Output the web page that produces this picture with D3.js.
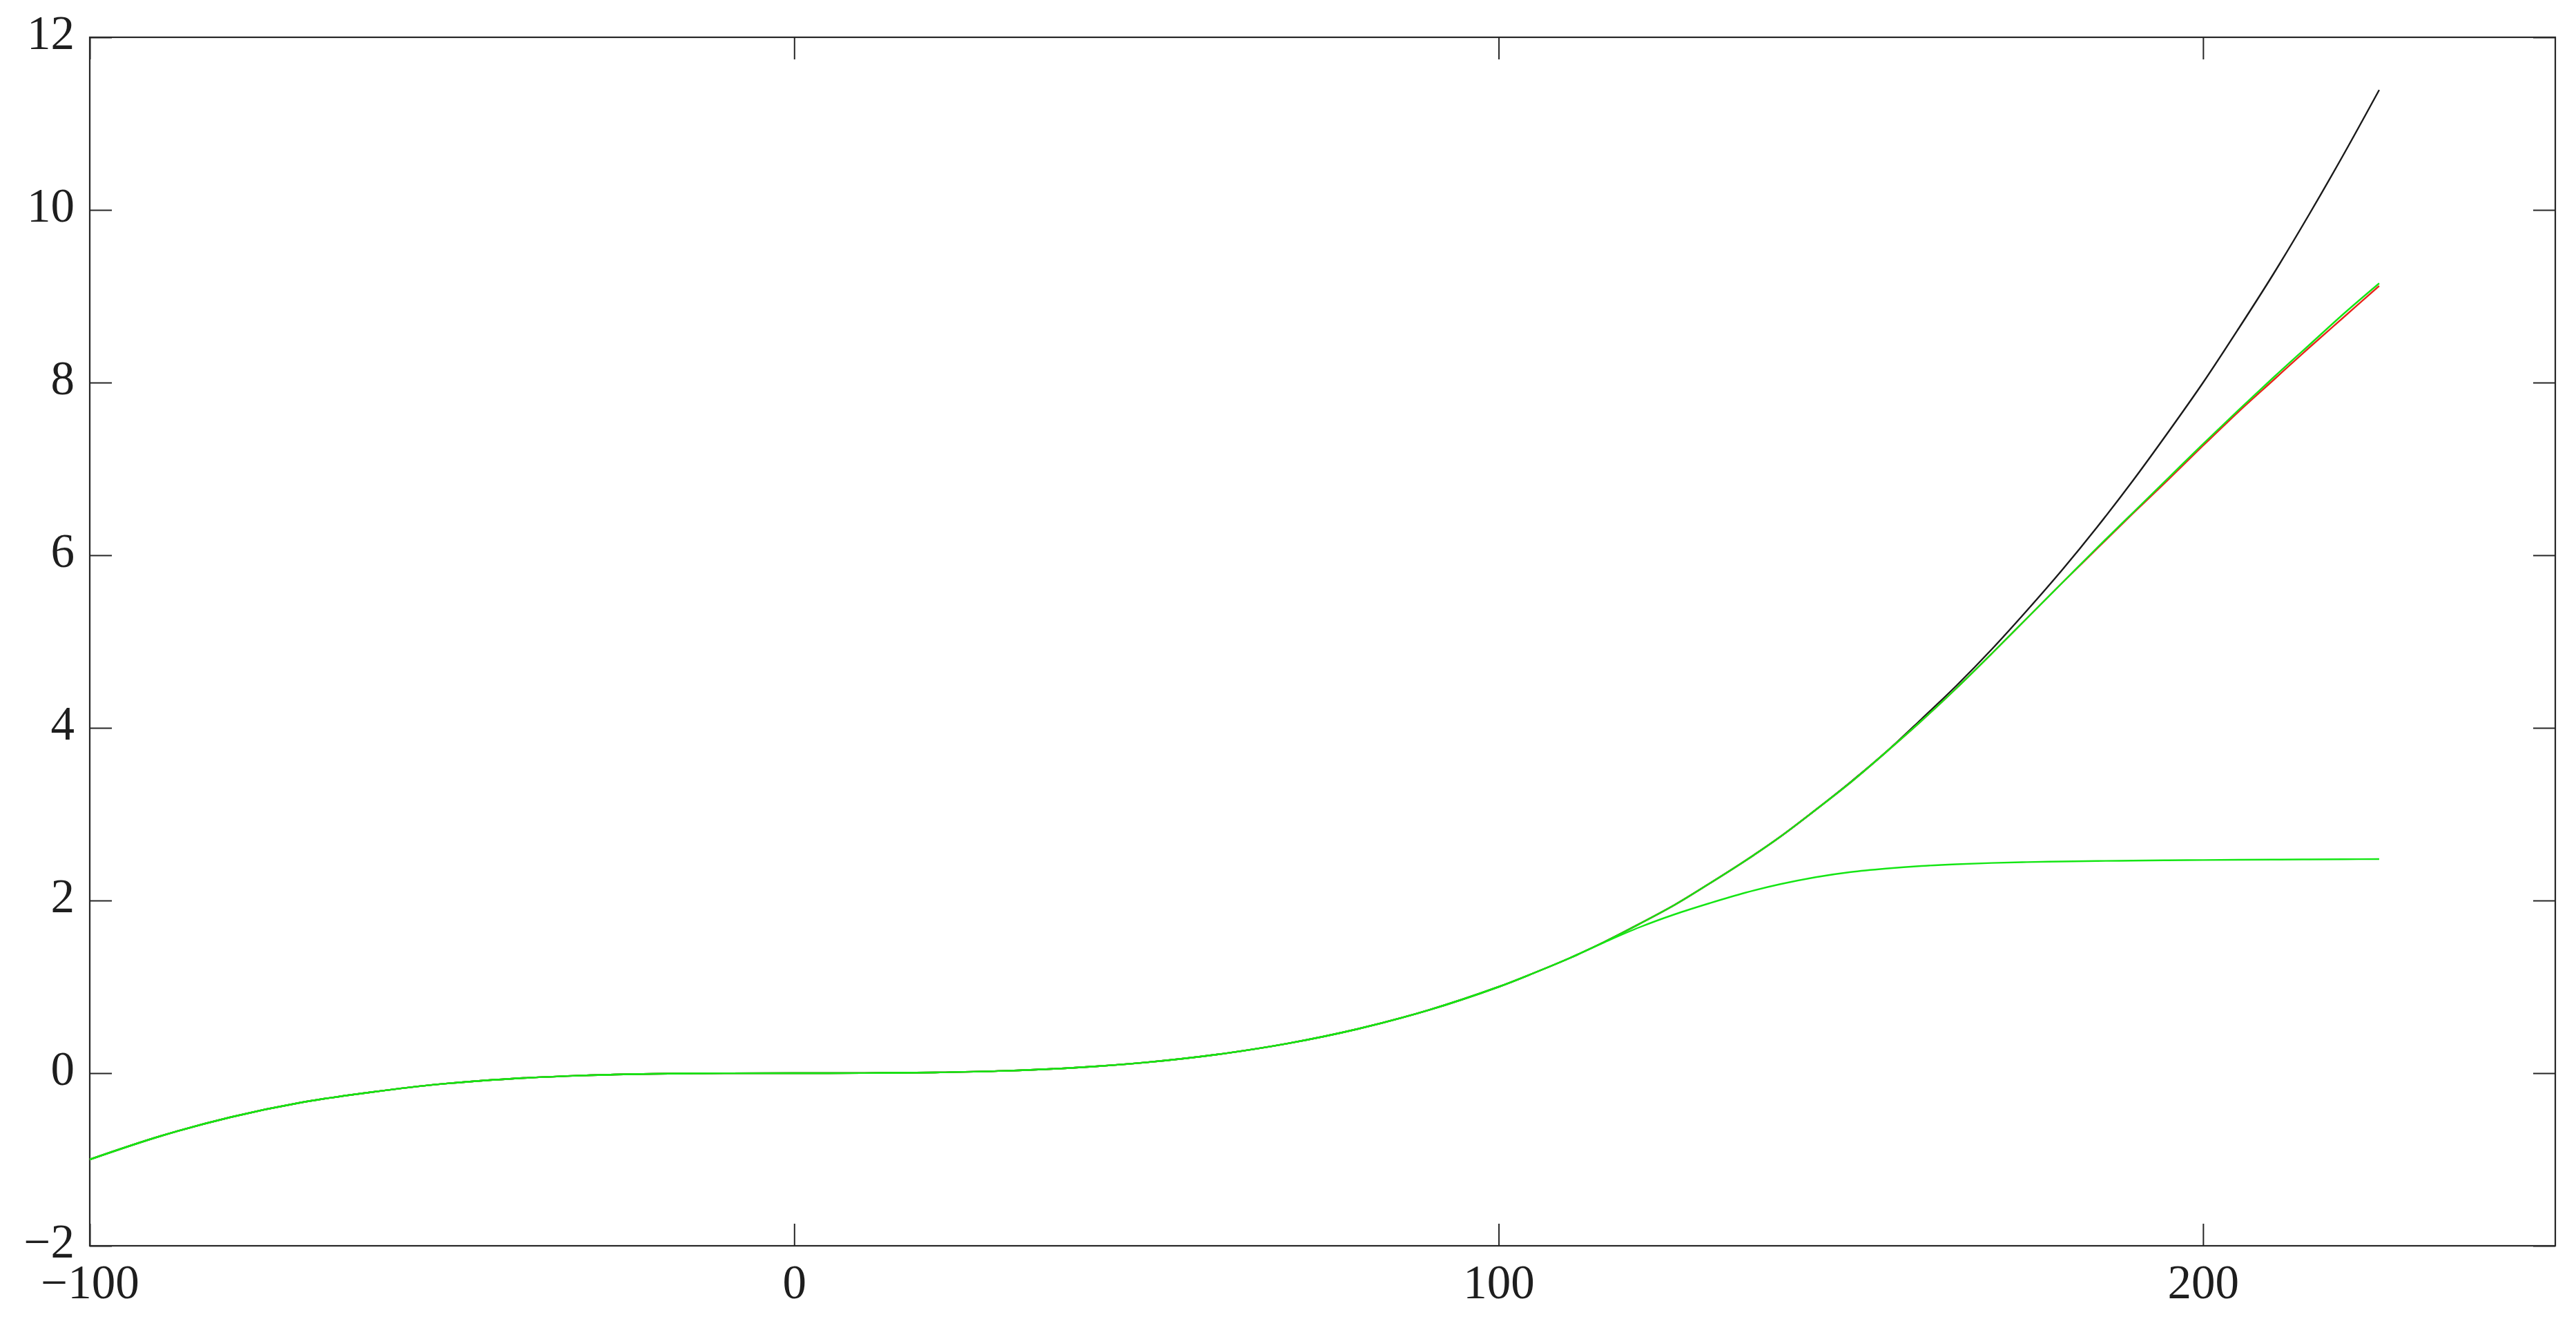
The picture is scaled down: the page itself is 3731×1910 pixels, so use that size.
<!DOCTYPE html>
<html>
<head>
<meta charset="utf-8">
<script src="https://cdn.jsdelivr.net/npm/d3@7"></script>
<style>
  body { margin: 0; background: #fff; }
  svg { display: block; }
</style>
</head>
<body>
<script>
// values
const xs = [-100, -90, -80, -70, -60, -50, -40, -30, -20, -10, 0, 10, 20, 30, 40, 50, 60, 70, 80, 90,
  100, 105, 110, 115, 120, 125, 130, 135, 140, 145, 150, 155, 160, 165, 170, 175, 180, 185, 190, 195,
  200, 205, 210, 215, 220, 225]

const blackVals = [-1.0, -0.73, -0.51, -0.34, -0.22, -0.125, -0.064, -0.027, -0.008, -0.001, 0, 0.001, 0.008, 0.027, 0.064, 0.125, 0.216, 0.343, 0.512, 0.729,
  1.0, 1.16, 1.33, 1.52, 1.73, 1.95, 2.20, 2.46, 2.74, 3.05, 3.375, 3.72, 4.10, 4.49, 4.91, 5.36, 5.83, 6.33, 6.86, 7.42,
  8.0, 8.62, 9.26, 9.94, 10.65, 11.39]

const redVals = [-1.0, -0.73, -0.51, -0.34, -0.22, -0.125, -0.064, -0.027, -0.008, -0.001, 0, 0.001, 0.008, 0.027, 0.064, 0.125, 0.216, 0.343, 0.512, 0.729,
  1.0, 1.16, 1.33, 1.52, 1.73, 1.95, 2.20, 2.46, 2.74, 3.05, 3.37, 3.72, 4.08, 4.46, 4.86, 5.27, 5.68, 6.08, 6.48, 6.87,
  7.27, 7.66, 8.03, 8.40, 8.76, 9.12]

const greenHighVals = [-1.0, -0.73, -0.51, -0.34, -0.22, -0.125, -0.064, -0.027, -0.008, -0.001, 0, 0.001, 0.008, 0.027, 0.064, 0.125, 0.216, 0.343, 0.512, 0.729,
  1.0, 1.16, 1.33, 1.52, 1.73, 1.95, 2.20, 2.46, 2.74, 3.05, 3.37, 3.72, 4.08, 4.46, 4.86, 5.27, 5.68, 6.09, 6.49, 6.89,
  7.29, 7.68, 8.06, 8.43, 8.80, 9.15]

const greenLowVals = [-1.0, -0.73, -0.51, -0.34, -0.22, -0.125, -0.064, -0.027, -0.008, -0.001, 0, 0.001, 0.008, 0.027, 0.064, 0.125, 0.216, 0.343, 0.512, 0.729,
  1.0, 1.16, 1.33, 1.515, 1.69, 1.84, 1.97, 2.09, 2.19, 2.27, 2.33, 2.37, 2.40, 2.42, 2.435, 2.445, 2.452, 2.458, 2.462, 2.466,
  2.469, 2.472, 2.474, 2.476, 2.478, 2.48]

const xTicks = [-100, 0, 100, 200]
const yTicks = [-2, 0, 2, 4, 6, 8, 10, 12]

const width = 3731, height = 1910
const plotLeft = 130, plotRight = 3701, plotTop = 54, plotBottom = 1804

const x = d3.scaleLinear().domain([-100, 250]).range([plotLeft, plotRight])
const y = d3.scaleLinear().domain([-2, 12]).range([plotBottom, plotTop])

const svg = d3.select("body").append("svg")
    .attr("width", width)
    .attr("height", height)

const font = "'Liberation Serif', 'Times New Roman', serif"

function styleAxis(g) {
    g.select(".domain").remove()
    g.selectAll(".tick line").attr("stroke", "#262626").attr("stroke-width", 2)
    g.selectAll(".tick text")
        .attr("fill", "#1e1e1e")
        .style("font-family", font)
        .style("font-size", "69px")
}

svg.append("g")
    .attr("transform", `translate(0,${plotBottom})`)
    .call(d3.axisBottom(x).tickValues(xTicks).tickSize(-32).tickPadding(27))
    .call(styleAxis)

svg.append("g")
    .attr("transform", `translate(0,${plotTop})`)
    .call(d3.axisTop(x).tickValues(xTicks).tickSize(-32).tickFormat(""))
    .call(styleAxis)

svg.append("g")
    .attr("transform", `translate(${plotLeft},0)`)
    .call(d3.axisLeft(y).tickValues(yTicks).tickSize(-32).tickPadding(22))
    .call(styleAxis)
    .call(g => g.selectAll(".tick text").attr("dy", "0.24em"))

svg.append("g")
    .attr("transform", `translate(${plotRight},0)`)
    .call(d3.axisRight(y).tickValues(yTicks).tickSize(-32).tickFormat(""))
    .call(styleAxis)

svg.append("rect")
    .attr("x", plotLeft)
    .attr("y", plotTop)
    .attr("width", plotRight - plotLeft)
    .attr("height", plotBottom - plotTop)
    .attr("fill", "none")
    .attr("stroke", "#262626")
    .attr("stroke-width", 2.2)

const line = d3.line()
    .x(d => x(d[0]))
    .y(d => y(d[1]))
    .curve(d3.curveCatmullRom)

const series = [
    { vals: blackVals, color: "#1a1a1a" },
    { vals: redVals, color: "#e8261c" },
    { vals: greenHighVals, color: "#14e614" },
    { vals: greenLowVals, color: "#14e614" }
]

svg.append("g")
    .selectAll("path")
    .data(series)
    .join("path")
    .attr("d", s => line(xs.map((v, i) => [v, s.vals[i]])))
    .attr("fill", "none")
    .attr("stroke", s => s.color)
    .attr("stroke-width", 2.4)
</script>
</body>
</html>
